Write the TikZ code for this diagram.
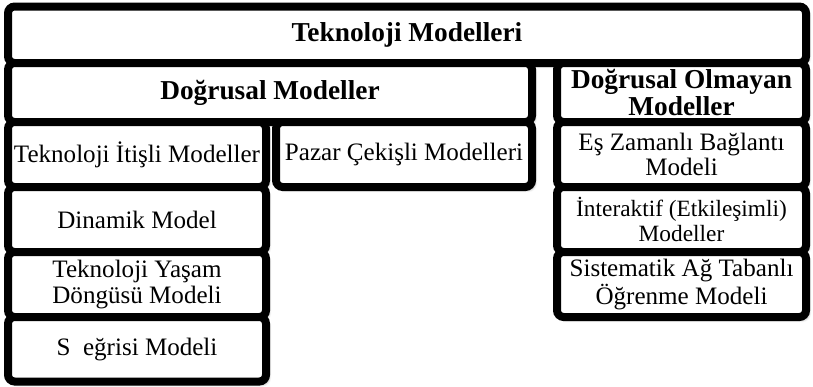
\documentclass[tikz,border=0pt]{standalone}
\usepackage{fontspec}
\setmainfont{Liberation Serif}
\usetikzlibrary{shadows.blur}

\begin{document}
\begin{tikzpicture}[x=0.75pt,y=-0.75pt,
  mb/.style={draw,line width=6pt,rounded corners=5pt,fill=white,inner sep=0pt,outer sep=0pt,align=center,
    blur shadow={shadow xshift=2pt,shadow yshift=-2pt,shadow blur radius=2pt,shadow opacity=45},
    font=\fontsize{18.8}{19}\selectfont},
  bw/.style={minimum width=#1*0.75pt},
  bh/.style={minimum height=#1*0.75pt},
  hd/.style={font=\fontsize{20.5}{20.5}\selectfont\bfseries}]
\useasboundingbox (0,0) rectangle (813,386);
% ust baslik ve iki ana grup
\node[mb,hd,bw=798,bh=56.5] (tm) at (407,34.75) {Teknoloji Modelleri};
\node[mb,hd,bw=524,bh=59] (dm) at (270,92.5) {Doğrusal Modeller};
\node[mb,hd,bw=249,bh=59] (dom) at (681.5,92.5) {Doğrusal Olmayan\\Modeller};
% dogrusal modeller
\node[mb,bw=258,bh=65] (tim) at (137,154.5) {Teknoloji İtişli Modeller};
\node[mb,bw=256,bh=65] (pcm) at (404,154.5) {Pazar Çekişli Modelleri};
\node[mb,bw=258,bh=65] (din) at (137,219.5) {Dinamik Model};
\node[mb,bw=258,bh=65] (tyd) at (137,284.5) {Teknoloji Yaşam\\Döngüsü Modeli};
\node[mb,bw=258,bh=64.5] (seg) at (137,349.25) {S~ eğrisi Modeli};
% dogrusal olmayan modeller
\node[mb,bw=249,bh=65] (ezb) at (681.5,154.5) {Eş Zamanlı Bağlantı\\Modeli};
\node[mb,bw=249,bh=65,font=\fontsize{17.5}{19}\selectfont] (ikm) at (681.5,219.5) {İnteraktif (Etkileşimli)\\Modeller};
\node[mb,bw=249,bh=65] (sat) at (681.5,284.5) {Sistematik Ağ Tabanlı\\Öğrenme Modeli};
\end{tikzpicture}
\end{document}
